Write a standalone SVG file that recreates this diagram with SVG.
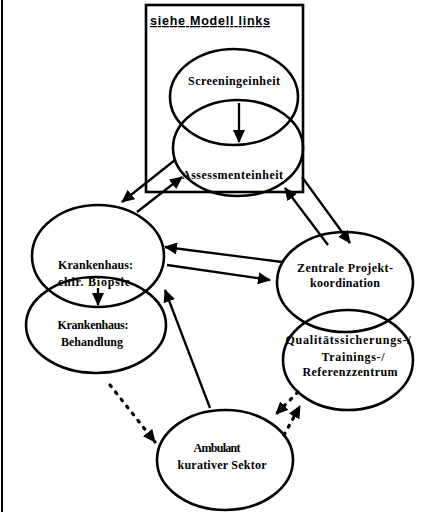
<svg xmlns="http://www.w3.org/2000/svg" width="421" height="512" viewBox="0 0 421 512">
<style>
.n{fill:none;stroke:#000;stroke-width:2.6}
.t{font-family:"Liberation Serif","DejaVu Serif",serif;font-weight:bold;font-size:12px;fill:#000;text-anchor:middle}
.c{stroke:#000;stroke-width:2.3;fill:none}
.d{stroke:#000;stroke-width:3.2;fill:none;stroke-dasharray:2 7;stroke-linecap:round}
</style>
<defs>
<marker id="ah" markerUnits="userSpaceOnUse" markerWidth="14" markerHeight="12" refX="12" refY="6" orient="auto">
<path d="M0,0 L13,6 L0,12 Z" fill="#000"/>
</marker>
</defs>
<rect width="421" height="512" fill="#fff"/>
<line x1="2" y1="0" x2="2" y2="512" stroke="#000" stroke-width="2"/>
<g id="box">
<rect x="146" y="5" width="157" height="187" class="n"/>
<text x="150" y="25" textLength="120" style="font-family:'Liberation Sans','DejaVu Sans',sans-serif;font-weight:bold;font-size:12.5px;text-decoration:underline">siehe Modell links</text>
</g>
<g id="screening">
<ellipse cx="234" cy="97" rx="64" ry="48" class="n"/>
<text x="234" y="85" class="t" textLength="92">Screeningeinheit</text>
</g>
<g id="assessment">
<ellipse cx="238" cy="148" rx="65" ry="48" class="n"/>
<text x="232.5" y="179" class="t" textLength="101">Assessmenteinheit</text>
</g>
<g id="krankenhaus-biopsie">
<ellipse cx="98" cy="256" rx="66" ry="51" class="n"/>
<text x="95.5" y="269" class="t" textLength="75">Krankenhaus:</text>
<text x="94" y="286" class="t" textLength="72">chir. Biopsie</text>
</g>
<g id="krankenhaus-behandlung">
<ellipse cx="96" cy="325" rx="70" ry="48" class="n"/>
<text x="93" y="329" class="t" textLength="71">Krankenhaus:</text>
<text x="92" y="346" class="t" textLength="62">Behandlung</text>
</g>
<g id="zentrale">
<ellipse cx="345" cy="282" rx="68" ry="50" class="n"/>
<text x="345" y="272" class="t" textLength="96">Zentrale Projekt-</text>
<text x="345" y="287" class="t" textLength="70">koordination</text>
</g>
<g id="qualitaet">
<ellipse cx="348" cy="360" rx="65" ry="50" class="n"/>
<text x="348" y="344" class="t" textLength="125">Qualitätssicherungs-/</text>
<text x="353" y="361" class="t" textLength="63">Trainings-/</text>
<text x="350" y="376" class="t" textLength="95">Referenzzentrum</text>
</g>
<g id="ambulant">
<ellipse cx="225" cy="460" rx="68" ry="50" class="n"/>
<text x="217" y="452" class="t" textLength="47">Ambulant</text>
<text x="222" y="469" class="t" textLength="89">kurativer Sektor</text>
</g>
<g id="connectors">
<line x1="239" y1="103" x2="239" y2="142" class="c" marker-end="url(#ah)"/>
<line x1="175" y1="160" x2="122" y2="202" class="c" marker-end="url(#ah)"/>
<line x1="137" y1="212" x2="182" y2="177" class="c" marker-end="url(#ah)"/>
<line x1="328" y1="245" x2="285" y2="188" class="c" marker-end="url(#ah)"/>
<line x1="302" y1="177" x2="350" y2="243" class="c" marker-end="url(#ah)"/>
<line x1="282" y1="262" x2="165" y2="247" class="c" marker-end="url(#ah)"/>
<line x1="167" y1="265" x2="270" y2="280" class="c" marker-end="url(#ah)"/>
<line x1="98" y1="288" x2="98" y2="305" class="c" marker-end="url(#ah)"/>
<line x1="210" y1="408" x2="165" y2="290" class="c" marker-end="url(#ah)"/>
<line x1="110" y1="385" x2="155" y2="442" class="d" marker-end="url(#ah)"/>
<line x1="298" y1="392" x2="276" y2="414" class="d" marker-end="url(#ah)"/>
<line x1="284" y1="435" x2="300" y2="406" class="d" marker-end="url(#ah)"/>
</g>
</svg>
